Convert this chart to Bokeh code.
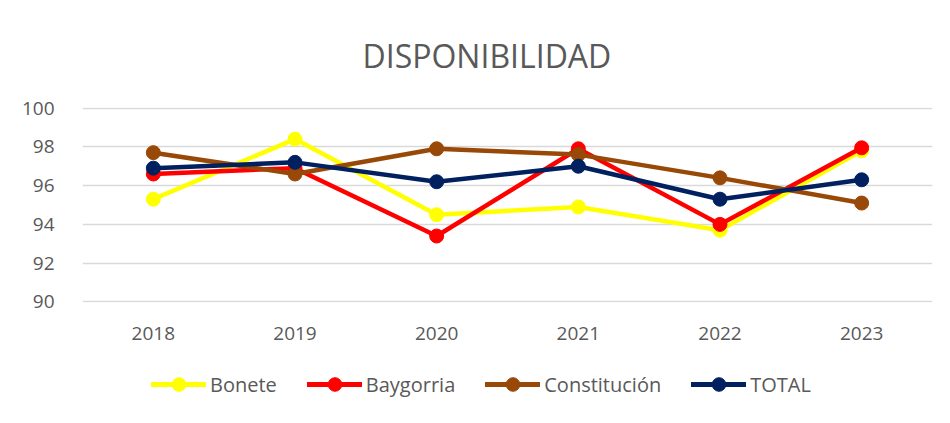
from bokeh.plotting import figure
from bokeh.models import Range1d, FactorRange, Legend, LegendItem, Title
from bokeh.layouts import column
from bokeh.embed import file_html
from bokeh.resources import INLINE

years = ["2018", "2019", "2020", "2021", "2022", "2023"]
bonete = [95.3, 98.4, 94.5, 94.9, 93.7, 97.8]
baygorria = [96.6, 96.9, 93.4, 97.9, 94.0, 97.95]
constitucion = [97.7, 96.6, 97.9, 97.6, 96.4, 95.1]
total = [96.9, 97.2, 96.2, 97.0, 95.3, 96.3]
series_names = ["Bonete", "Baygorria", "Constitución", "TOTAL"]
colors = ["#FFFF00", "#FF0000", "#984807", "#002060"]
y_ticks = [90, 92, 94, 96, 98, 100]

FONT = "Open Sans"
TXT = "#595959"

p = figure(width=934, height=352, x_range=FactorRange(*years, range_padding=0),
           y_range=Range1d(89.97, 100.03), output_backend="svg", toolbar_location=None,
           min_border_left=82, min_border_right=2, min_border_top=106, min_border_bottom=50)
p.outline_line_color = None
p.background_fill_color = "white"
p.border_fill_color = "white"

p.title = Title(text="DISPONIBILIDAD", align="left", offset=280, text_font=FONT,
                text_font_size="32px", text_font_style="normal", text_color=TXT, standoff=62)

p.xgrid.grid_line_color = None
p.ygrid.grid_line_color = "#D9D9D9"
p.ygrid.grid_line_width = 1.5
p.yaxis.ticker = y_ticks
for ax in (p.xaxis[0], p.yaxis[0]):
    ax.axis_line_color = None
    ax.major_tick_line_color = None
    ax.minor_tick_line_color = None
    ax.major_label_text_font = FONT
    ax.major_label_text_font_size = "19px"
    ax.major_label_text_color = TXT
p.yaxis.major_label_standoff = 22
p.xaxis.major_label_standoff = 18

all_vals = [bonete, baygorria, constitucion, total]
for vals, col in zip(all_vals, colors):
    p.line(years, vals, line_color=col, line_width=4.5)
    p.scatter(years, vals, size=14, fill_color=col, line_color=col)

# legend in its own strip below the chart; its renderers use the same series,
# but lie outside this strip's visible y range, so only the legend shows
lf = figure(width=934, height=55, x_range=FactorRange(*years, range_padding=0),
            y_range=Range1d(0, 1), output_backend="svg", toolbar_location=None,
            min_border_left=82, min_border_right=2, min_border_top=0, min_border_bottom=0)
lf.axis.visible = False
lf.grid.visible = False
lf.outline_line_color = None
lf.border_fill_color = "white"
lf.background_fill_color = "white"

items = []
for name, vals, col in zip(series_names, all_vals, colors):
    l = lf.line(years, vals, line_color=col, line_width=5, line_cap="round")
    c = lf.scatter(years, vals, size=14, fill_color=col, line_color=col)
    items.append(LegendItem(label=name, renderers=[l, c]))

legend = Legend(items=items, orientation="horizontal", location=(69, 6),
                label_text_font=FONT, label_text_font_size="20px", label_text_color=TXT,
                glyph_width=55, glyph_height=34, label_standoff=4, spacing=30,
                border_line_color=None, background_fill_alpha=0, margin=0, padding=0)
lf.add_layout(legend, "center")

layout = column(p, lf, spacing=0)
open("out.html", "w").write(file_html(layout, INLINE))
